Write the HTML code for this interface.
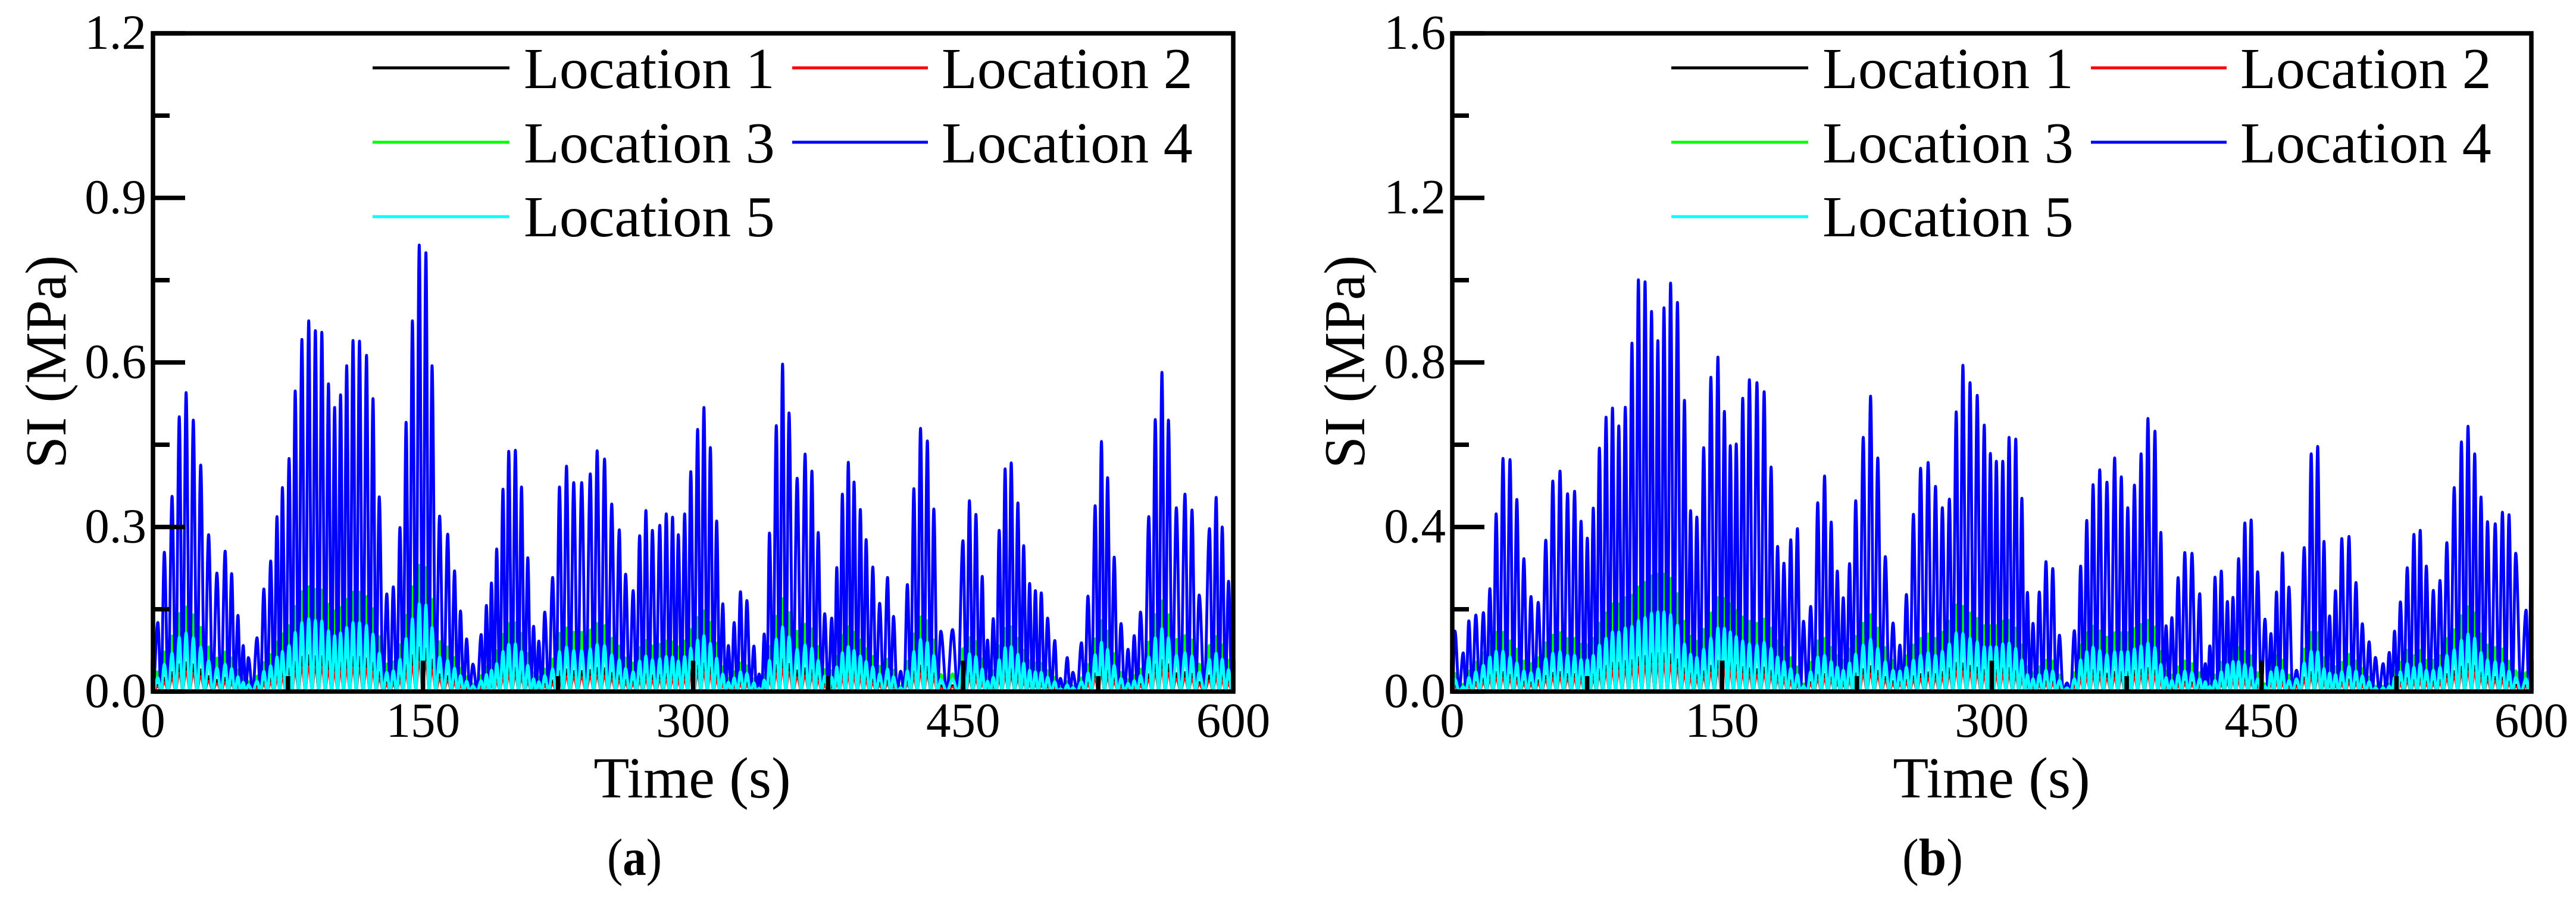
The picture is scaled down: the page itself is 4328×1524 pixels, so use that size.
<!DOCTYPE html>
<html lang="en">
<head>
<meta charset="utf-8">
<title>SI time histories at five locations</title>
<style>
html,body{margin:0;padding:0;background:#fff;}
svg{display:block;}
text{font-family:"Liberation Serif","Times New Roman",serif;fill:#000;}
</style>
</head>
<body>
<svg id="figure" xmlns="http://www.w3.org/2000/svg" width="4328" height="1524" viewBox="0 0 4328 1524">
  <rect x="0" y="0" width="4328" height="1524" fill="#fff"/>
  <g id="panel-a"></g>
  <g id="panel-b"></g>

  <g>
    <text transform="translate(110,608) rotate(-90)" text-anchor="middle" font-size="97">SI (MPa)</text>
    <text x="1163" y="1340" text-anchor="middle" font-size="98">Time (s)</text>
    <text x="1020" y="1470" font-size="88" textLength="92" lengthAdjust="spacingAndGlyphs">(<tspan font-weight="bold">a</tspan>)</text>
  </g>
  <g>
    <text transform="translate(2292,608) rotate(-90)" text-anchor="middle" font-size="97">SI (MPa)</text>
    <text x="3346" y="1340" text-anchor="middle" font-size="98">Time (s)</text>
    <text x="3196" y="1470" font-size="88" textLength="102" lengthAdjust="spacingAndGlyphs">(<tspan font-weight="bold">b</tspan>)</text>
  </g>

  <g font-size="98">
    <g><line x1="626" x2="856" y1="114" y2="114" stroke="#000" stroke-width="5"/><text x="880" y="148">Location 1</text></g>
    <g><line x1="1331" x2="1559" y1="114" y2="114" stroke="#f00" stroke-width="5"/><text x="1582" y="148">Location 2</text></g>
    <g><line x1="626" x2="856" y1="239" y2="239" stroke="#0f0" stroke-width="5"/><text x="880" y="273">Location 3</text></g>
    <g><line x1="1331" x2="1559" y1="239" y2="239" stroke="#00f" stroke-width="5"/><text x="1582" y="273">Location 4</text></g>
    <g><line x1="626" x2="856" y1="364" y2="364" stroke="#0ff" stroke-width="5"/><text x="880" y="397">Location 5</text></g>
  </g>
  <g font-size="98" transform="translate(2182,0)">
    <g><line x1="626" x2="856" y1="114" y2="114" stroke="#000" stroke-width="5"/><text x="880" y="148">Location 1</text></g>
    <g><line x1="1331" x2="1559" y1="114" y2="114" stroke="#f00" stroke-width="5"/><text x="1582" y="148">Location 2</text></g>
    <g><line x1="626" x2="856" y1="239" y2="239" stroke="#0f0" stroke-width="5"/><text x="880" y="273">Location 3</text></g>
    <g><line x1="1331" x2="1559" y1="239" y2="239" stroke="#00f" stroke-width="5"/><text x="1582" y="273">Location 4</text></g>
    <g><line x1="626" x2="856" y1="364" y2="364" stroke="#0ff" stroke-width="5"/><text x="880" y="397">Location 5</text></g>
  </g>
</svg>

<script>
// ---- Shared axis data ----
const xMajorTicks = [0, 150, 300, 450, 600];
const xMinorTicks = [75, 225, 375, 525];
const yMajorTicksA = [0, 0.3, 0.6, 0.9, 1.2];
const yMinorTicksA = [0.15, 0.45, 0.75, 1.05];
const yMajorTicksB = [0, 0.4, 0.8, 1.2, 1.6];
const yMinorTicksB = [0.2, 0.6, 1.0, 1.4];
const seriesNames = ['location-1', 'location-2', 'location-3', 'location-4', 'location-5'];

// ---- Panel (a): time of each load-cycle peak (s) ----
const peakTimesA = [2.7,6.3,10.6,14.6,18.4,22.4,26.5,30.9,35.5,40.1,43.7,47.2,50.1,53.0,57.8,61.6,65.4,68.9,71.9,75.6,79.0,82.7,86.5,90.2,93.8,97.5,100.9,104.2,107.6,111.1,114.7,118.6,122.2,125.7,129.9,133.5,137.2,140.6,144.1,147.9,151.6,155.0,159.2,163.7,167.5,170.8,174.2,177.7,182.3,185.2,188.0,190.9,194.4,197.6,201.3,204.7,208.2,211.4,214.3,217.6,222.0,225.8,229.7,233.7,238.1,242.9,246.7,250.8,254.8,259.0,262.5,266.7,270.3,273.8,277.4,281.5,285.1,288.6,291.8,295.3,298.7,
302.5,306.0,309.6,313.1,316.5,319.6,322.8,326.3,329.9,333.8,336.7,339.5,342.4,346.2,349.7,353.3,357.8,362.2,366.0,369.5,373.1,377.0,379.8,382.9,386.2,389.4,392.9,396.1,399.8,403.6,408.0,411.3,415.3,419.0,422.6,426.3,430.1,433.7,437.6,444.1,449.9,453.5,457.1,460.6,463.5,466.7,470.0,473.3,476.7,480.4,483.6,486.9,490.1,493.4,496.9,500.9,504.0,507.8,510.9,515.7,519.3,523.3,526.8,530.2,533.9,537.7,541.6,545.0,548.5,553.1,556.7,560.4,564.0,568.4,573.2,577.1,581.1,586.8,590.5,593.9,597.4,601.0];

// Panel (a): peak SI per cycle (MPa)
const location4A = [.126,.254,.356,.501,.545,.495,.413,.286,.216,.256,.215,.139,.084,.062,.098,.187,.238,.319,.372,.425,.548,.642,.676,.658,.655,.561,.518,.541,.594,.640,.639,.613,.534,.355,.178,.191,.299,.491,.676,.814,.800,.594,.320,.287,.220,.147,.096,.050,.104,.157,.198,.260,.369,.438,.440,.373,.244,.119,.092,.145,.208,.373,.411,.381,.381,.397,.439,.424,.342,.295,.214,.184,.284,.330,.294,.303,.324,.318,.286,.324,.401,
.478,.518,.445,.311,.160,.084,.126,.182,.166,.083,.032,.105,.289,.485,.597,.508,.389,.433,.402,.290,.142,.134,.226,.360,.418,.382,.332,.277,.227,.161,.208,.137,.037,.195,.370,.480,.457,.333,.110,.113,.275,.348,.323,.210,.094,.133,.294,.406,.417,.344,.266,.197,.184,.180,.134,.093,.024,.062,.035,.089,.174,.339,.456,.390,.245,.124,.077,.102,.145,.319,.496,.582,.495,.335,.360,.331,.176,.297,.354,.300,.201,.195];
const location5A = [.025,.050,.070,.099,.107,.098,.081,.056,.043,.050,.042,.027,.017,.012,.019,.037,.047,.063,.073,.084,.108,.126,.133,.130,.129,.111,.102,.107,.117,.126,.126,.121,.105,.070,.035,.038,.059,.097,.133,.160,.158,.117,.063,.057,.043,.029,.019,.010,.020,.031,.039,.051,.073,.086,.087,.073,.048,.023,.018,.029,.041,.073,.081,.075,.075,.078,.086,.084,.067,.058,.042,.036,.056,.065,.058,.060,.064,.063,.056,.064,.079,
.094,.102,.088,.061,.032,.017,.025,.036,.033,.016,.006,.021,.057,.096,.118,.100,.077,.085,.079,.057,.028,.026,.045,.071,.082,.075,.065,.055,.045,.032,.041,.027,.007,.038,.073,.095,.090,.066,.022,.022,.054,.069,.064,.041,.019,.026,.058,.080,.082,.068,.052,.039,.036,.035,.026,.018,.005,.012,.007,.018,.034,.067,.090,.077,.048,.024,.015,.020,.029,.063,.098,.115,.098,.066,.071,.065,.035,.059,.070,.059,.040,.039];
const location3A = [.036,.072,.101,.142,.154,.140,.117,.081,.061,.072,.061,.039,.024,.018,.028,.053,.067,.090,.105,.120,.155,.182,.191,.186,.185,.159,.147,.153,.168,.181,.181,.173,.151,.100,.050,.054,.085,.139,.191,.230,.226,.168,.091,.081,.062,.042,.027,.014,.029,.044,.056,.074,.104,.124,.125,.106,.069,.034,.026,.041,.059,.106,.116,.108,.108,.112,.124,.120,.097,.083,.061,.052,.080,.093,.083,.086,.092,.090,.081,.092,.113,
.135,.147,.126,.088,.045,.024,.036,.052,.047,.023,.009,.030,.082,.137,.169,.144,.110,.123,.114,.082,.040,.038,.064,.102,.118,.108,.094,.078,.064,.046,.059,.039,.010,.055,.105,.136,.129,.094,.031,.032,.078,.098,.091,.059,.027,.038,.083,.115,.118,.097,.075,.056,.052,.051,.038,.026,.007,.018,.010,.025,.049,.096,.129,.110,.069,.035,.022,.029,.041,.090,.140,.165,.140,.095,.102,.094,.050,.084,.100,.085,.057,.057];
const location1A = [.012,.025,.035,.049,.053,.049,.040,.028,.021,.025,.021,.014,.008,.006,.010,.018,.023,.031,.036,.042,.054,.063,.066,.064,.064,.055,.051,.053,.058,.063,.063,.060,.052,.035,.017,.019,.029,.048,.066,.080,.078,.058,.031,.028,.022,.014,.009,.005,.010,.015,.019,.025,.036,.043,.043,.037,.024,.012,.009,.014,.020,.037,.040,.037,.037,.039,.043,.042,.034,.029,.021,.018,.028,.032,.029,.030,.032,.031,.028,.032,.039,
.047,.051,.044,.030,.016,.008,.012,.018,.016,.008,.003,.010,.028,.048,.059,.050,.038,.042,.039,.028,.014,.013,.022,.035,.041,.037,.033,.027,.022,.016,.020,.013,.004,.019,.036,.047,.045,.033,.011,.011,.027,.034,.032,.021,.009,.013,.029,.040,.041,.034,.026,.019,.018,.018,.013,.009,.002,.006,.003,.009,.017,.033,.045,.038,.024,.012,.008,.010,.014,.031,.049,.057,.049,.033,.035,.032,.017,.029,.035,.029,.020,.020];
const location2A = [.009,.017,.024,.034,.037,.034,.028,.019,.015,.017,.015,.009,.006,.004,.007,.013,.016,.022,.025,.029,.037,.044,.046,.045,.045,.038,.035,.037,.040,.044,.043,.042,.036,.024,.012,.013,.020,.033,.046,.055,.054,.040,.022,.020,.015,.010,.007,.003,.007,.011,.013,.018,.025,.030,.030,.025,.017,.008,.006,.010,.014,.025,.028,.026,.026,.027,.030,.029,.023,.020,.015,.013,.019,.022,.020,.021,.022,.022,.019,.022,.027,
.033,.035,.030,.021,.011,.006,.009,.012,.011,.006,.002,.007,.020,.033,.041,.035,.026,.029,.027,.020,.010,.009,.015,.024,.028,.026,.023,.019,.015,.011,.014,.009,.003,.013,.025,.033,.031,.023,.007,.008,.019,.024,.022,.014,.006,.009,.020,.028,.028,.023,.018,.013,.013,.012,.009,.006,.002,.004,.002,.006,.012,.023,.031,.027,.017,.008,.005,.007,.010,.022,.034,.040,.034,.023,.024,.023,.012,.020,.024,.020,.014,.014];

// ---- Panel (b): time of each load-cycle peak (s) ----
const peakTimesB = [1.5,6.1,9.2,13.1,17.3,20.9,24.4,28.2,32.1,35.9,39.8,43.8,47.8,52.0,55.9,59.9,64.1,68.0,71.6,75.1,78.4,81.8,85.5,89.1,92.6,96.2,99.9,103.5,107.2,110.8,114.3,117.7,121.4,125.2,129.1,132.5,136.0,139.8,143.8,147.7,151.3,154.6,157.9,161.5,165.2,169.4,173.4,177.3,180.9,184.4,188.2,191.9,195.3,199.3,203.2,207.0,210.7,214.1,217.4,220.9,224.3,228.5,232.6,236.6,240.8,245.1,248.9,252.5,256.4,260.4,264.6,268.7,272.5,276.4,280.2,283.9,287.9,291.9,295.8,299.2,
302.5,306.1,309.6,313.3,316.7,319.8,322.9,326.4,330.1,333.9,337.6,341.8,345.9,349.4,352.8,356.3,360.0,364.0,368.3,372.0,375.6,379.3,383.0,386.8,390.7,394.0,396.9,400.1,403.6,407.3,411.3,415.6,418.7,421.2,424.1,427.6,431.0,434.1,437.2,440.7,444.2,447.8,451.9,455.2,458.3,461.6,465.2,469.4,473.7,477.6,481.2,484.7,487.8,491.1,494.6,498.6,502.5,506.0,509.8,513.3,517.6,521.0,523.9,527.2,531.0,534.7,538.2,541.6,545.5,549.2,553.0,557.1,561.1,564.8,568.5,572.0,575.6,579.9,583.9,587.6,591.3,597.1,600.0];

// Panel (b): peak SI per cycle (MPa)
const location4B = [.147,.094,.172,.186,.192,.250,.432,.567,.564,.467,.323,.231,.217,.368,.512,.536,.481,.487,.414,.373,.446,.592,.667,.689,.646,.691,.847,1.001,.996,.924,.853,.933,.993,.946,.708,.440,.424,.593,.764,.813,.681,.598,.602,.713,.758,.751,.729,.546,.353,.312,.369,.396,.171,.207,.459,.524,.412,.293,.228,.311,.464,.618,.718,.568,.328,.167,.113,.236,.431,.543,.557,.499,.447,.468,.680,.793,.751,.720,.648,.579,
.560,.560,.618,.614,.470,.241,.166,.242,.316,.299,.137,.021,.148,.305,.416,.503,.539,.509,.568,.522,.447,.502,.578,.664,.633,.387,.160,.180,.277,.338,.336,.238,.068,.111,.278,.293,.219,.229,.323,.410,.417,.291,.176,.141,.242,.337,.254,.052,.350,.578,.596,.365,.184,.245,.372,.377,.265,.165,.121,.083,.068,.095,.147,.218,.301,.382,.392,.305,.246,.270,.362,.496,.607,.645,.578,.473,.413,.408,.436,.430,.336,.198,.319];
const location5B = [.030,.012,.034,.048,.064,.084,.098,.098,.084,.070,.050,.046,.056,.080,.093,.097,.088,.088,.078,.077,.088,.113,.130,.145,.145,.155,.159,.173,.180,.191,.194,.194,.187,.162,.116,.091,.083,.103,.130,.155,.154,.145,.134,.123,.116,.113,.120,.105,.084,.073,.056,.041,.013,.048,.084,.088,.073,.059,.052,.070,.091,.113,.127,.105,.073,.052,.050,.059,.077,.088,.095,.088,.098,.116,.143,.141,.130,.121,.109,.109,
.109,.116,.118,.105,.077,.041,.031,.041,.052,.050,.027,.009,.031,.077,.097,.108,.100,.090,.097,.097,.097,.104,.111,.118,.107,.066,.034,.027,.041,.050,.046,.031,.024,.013,.027,.048,.066,.073,.073,.066,.059,.031,.013,.048,.059,.052,.027,.031,.070,.098,.097,.056,.045,.041,.048,.061,.050,.038,.024,.009,.009,.013,.034,.048,.068,.059,.068,.052,.052,.059,.088,.102,.125,.140,.130,.095,.077,.073,.070,.050,.034,.031,.059];
const location3B = [.044,.018,.050,.071,.094,.123,.144,.144,.123,.103,.074,.068,.082,.118,.137,.143,.129,.129,.115,.113,.129,.166,.191,.213,.213,.228,.234,.254,.265,.281,.285,.285,.275,.238,.171,.134,.122,.151,.191,.228,.226,.213,.197,.181,.171,.166,.176,.154,.123,.107,.082,.060,.019,.071,.123,.129,.107,.087,.076,.103,.134,.166,.187,.154,.107,.076,.074,.087,.113,.129,.140,.129,.144,.171,.210,.207,.191,.178,.160,.160,
.160,.171,.173,.154,.113,.060,.046,.060,.076,.074,.040,.013,.046,.113,.143,.159,.147,.132,.143,.143,.143,.153,.163,.173,.157,.097,.050,.040,.060,.074,.068,.046,.035,.019,.040,.071,.097,.107,.107,.097,.087,.046,.019,.071,.087,.076,.040,.046,.103,.144,.143,.082,.066,.060,.071,.090,.074,.056,.035,.013,.013,.019,.050,.071,.100,.087,.100,.076,.076,.087,.129,.150,.184,.206,.191,.140,.113,.107,.103,.074,.050,.046,.087];
const location1B = [.014,.006,.016,.023,.031,.040,.047,.047,.040,.034,.024,.022,.027,.038,.045,.047,.042,.042,.037,.037,.042,.054,.062,.070,.070,.074,.076,.083,.086,.092,.093,.093,.090,.078,.056,.044,.040,.049,.062,.074,.074,.070,.064,.059,.056,.054,.058,.050,.040,.035,.027,.020,.006,.023,.040,.042,.035,.028,.025,.034,.044,.054,.061,.050,.035,.025,.024,.028,.037,.042,.046,.042,.047,.056,.069,.068,.062,.058,.052,.052,
.052,.056,.057,.050,.037,.020,.015,.020,.025,.024,.013,.004,.015,.037,.047,.052,.048,.043,.047,.047,.047,.050,.053,.057,.051,.032,.016,.013,.020,.024,.022,.015,.012,.006,.013,.023,.032,.035,.035,.032,.028,.015,.006,.023,.028,.025,.013,.015,.034,.047,.047,.027,.022,.020,.023,.029,.024,.018,.012,.004,.004,.006,.016,.023,.033,.028,.033,.025,.025,.028,.042,.049,.060,.067,.062,.046,.037,.035,.034,.024,.016,.015,.028];
const location2B = [.011,.004,.012,.017,.022,.029,.034,.034,.029,.025,.018,.016,.020,.028,.033,.034,.031,.031,.027,.027,.031,.040,.046,.051,.051,.054,.056,.061,.063,.067,.068,.068,.065,.057,.041,.032,.029,.036,.046,.054,.054,.051,.047,.043,.041,.040,.042,.037,.029,.026,.020,.014,.005,.017,.029,.031,.026,.021,.018,.025,.032,.040,.044,.037,.026,.018,.018,.021,.027,.031,.033,.031,.034,.041,.050,.049,.046,.042,.038,.038,
.038,.041,.041,.037,.027,.014,.011,.014,.018,.018,.009,.003,.011,.027,.034,.038,.035,.032,.034,.034,.034,.036,.039,.041,.037,.023,.012,.009,.014,.018,.016,.011,.008,.005,.009,.017,.023,.026,.026,.023,.021,.011,.005,.017,.021,.018,.009,.011,.025,.034,.034,.020,.016,.014,.017,.021,.018,.013,.008,.003,.003,.005,.012,.017,.024,.021,.024,.018,.018,.021,.031,.036,.044,.049,.046,.033,.027,.026,.025,.018,.012,.011,.021];

// ---- Drawing ----
const SVG_NS = 'http://www.w3.org/2000/svg';

function make(tag, attrs) {
  const el = document.createElementNS(SVG_NS, tag);
  for (const k in attrs) el.setAttribute(k, attrs[k]);
  return el;
}

// Smooth load-cycle curve: baseline -> peak -> baseline, using cubic Beziers.
function cyclePath(times, values, x, y) {
  const h = 0.3642;
  const base = y(0);
  let tPrev = 0;
  let d = 'M' + x(0).toFixed(1) + ' ' + base.toFixed(1);
  for (let i = 0; i < times.length; i++) {
    const tp = times[i];
    const py = y(values[i]).toFixed(1);
    const tNext = i < times.length - 1 ? (tp + times[i + 1]) / 2 : tp + (tp - tPrev);
    d += 'C' + x(tPrev + h * (tp - tPrev)).toFixed(1) + ' ' + base.toFixed(1) + ' ' +
         x(tp - h * (tp - tPrev)).toFixed(1) + ' ' + py + ' ' + x(tp).toFixed(1) + ' ' + py;
    d += 'C' + x(tp + h * (tNext - tp)).toFixed(1) + ' ' + py + ' ' +
         x(tNext - h * (tNext - tp)).toFixed(1) + ' ' + base.toFixed(1) + ' ' + x(tNext).toFixed(1) + ' ' + base.toFixed(1);
    tPrev = tNext;
  }
  return d;
}

function drawPanel(opts) {
  const g = document.getElementById(opts.id);
  const left = opts.left, right = opts.right, top = 56, bottom = 1162;
  const x = t => left + (t / 600) * (right - left);
  const y = v => bottom - (v / opts.yMax) * (bottom - top);

  const clipId = 'clip-' + opts.id;
  const defs = make('defs', {});
  const clip = make('clipPath', { id: clipId });
  clip.appendChild(make('rect', { x: left, y: top, width: right - left, height: bottom - top }));
  defs.appendChild(clip);
  g.appendChild(defs);

  const plot = make('g', { 'clip-path': 'url(#' + clipId + ')', fill: 'none', 'stroke-linejoin': 'round' });
  
  
  g.appendChild(plot);

  opts.series.forEach((s) => {
    const path = make('path', { d: cyclePath(opts.times, s.values, x, y), stroke: s.color, 'stroke-width': s.width });
    
    
    plot.appendChild(path);
  });

  const frame = make('rect', { x: left, y: top, width: right - left, height: bottom - top, fill: 'none', stroke: '#000', 'stroke-width': 7.5 });
  
  
  g.appendChild(frame);

  xMajorTicks.forEach(t => {
    const tick = make('line', { x1: x(t), x2: x(t), y1: bottom, y2: bottom - 52, stroke: '#000', 'stroke-width': 7.5 });
    
    
    g.appendChild(tick);
    const label = make('text', { x: x(t), y: 1238, 'text-anchor': 'middle', 'font-size': 83 });
    
    
    label.textContent = String(t);
    g.appendChild(label);
  });
  xMinorTicks.forEach(t => {
    const tick = make('line', { x1: x(t), x2: x(t), y1: bottom, y2: bottom - 26, stroke: '#000', 'stroke-width': 7.5 });
    
    
    g.appendChild(tick);
  });
  opts.yMajor.forEach(v => {
    const tick = make('line', { x1: left, x2: left + 54, y1: y(v), y2: y(v), stroke: '#000', 'stroke-width': 7.5 });
    
    
    g.appendChild(tick);
    const label = make('text', { x: left - 11, y: y(v) + 26, 'text-anchor': 'end', 'font-size': 83 });
    
    
    label.textContent = v.toFixed(1);
    g.appendChild(label);
  });
  opts.yMinor.forEach(v => {
    const tick = make('line', { x1: left, x2: left + 28, y1: y(v), y2: y(v), stroke: '#000', 'stroke-width': 7.5 });
    
    
    g.appendChild(tick);
  });
}

drawPanel({
  id: 'panel-a', left: 257, right: 2072, yMax: 1.2,
  yMajor: yMajorTicksA, yMinor: yMinorTicksA, times: peakTimesA,
  series: [
    { nameIndex: 0, values: location1A, color: '#000', width: 4 },
    { nameIndex: 1, values: location2A, color: '#f00', width: 3.5 },
    { nameIndex: 2, values: location3A, color: '#0f0', width: 5 },
    { nameIndex: 3, values: location4A, color: '#00f', width: 4.8 },
    { nameIndex: 4, values: location5A, color: '#0ff', width: 4.8 }
  ]
});
drawPanel({
  id: 'panel-b', left: 2440, right: 4253, yMax: 1.6,
  yMajor: yMajorTicksB, yMinor: yMinorTicksB, times: peakTimesB,
  series: [
    { nameIndex: 0, values: location1B, color: '#000', width: 4 },
    { nameIndex: 1, values: location2B, color: '#f00', width: 3.5 },
    { nameIndex: 2, values: location3B, color: '#0f0', width: 5 },
    { nameIndex: 3, values: location4B, color: '#00f', width: 4.8 },
    { nameIndex: 4, values: location5B, color: '#0ff', width: 4.8 }
  ]
});
</script>
</body>
</html>
